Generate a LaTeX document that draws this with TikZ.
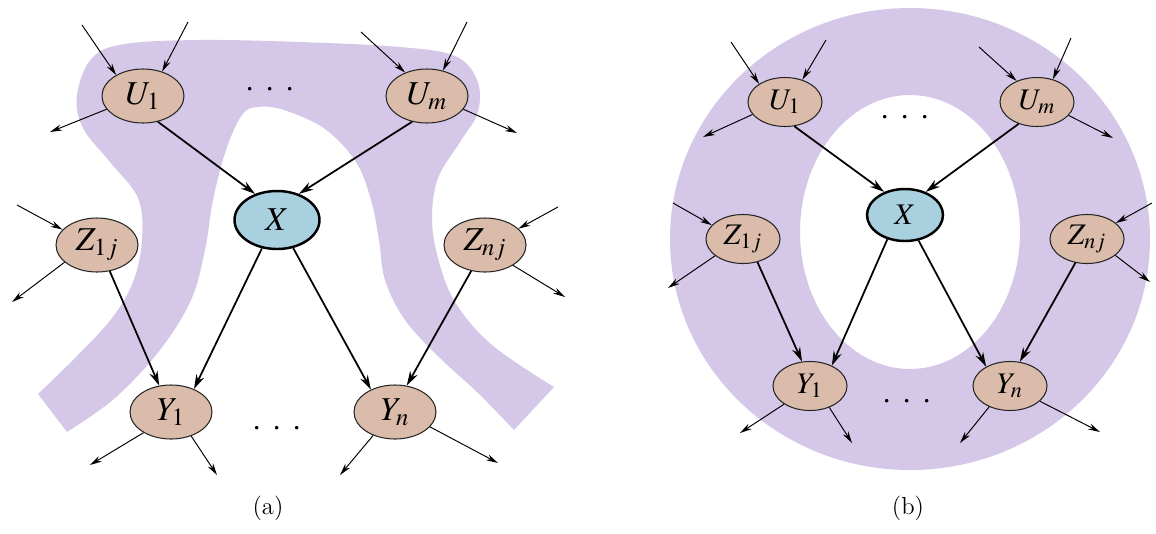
\documentclass[tikz,border=0pt]{standalone}
\usepackage{mathptmx}
\usetikzlibrary{shapes.geometric,arrows.meta}

\definecolor{halo}{RGB}{212,199,231}
\definecolor{nodetan}{RGB}{219,188,170}
\definecolor{nodeblue}{RGB}{168,208,222}

\tikzset{
  varnode/.style={ellipse, draw=black!85, line width=0.6pt, fill=nodetan, inner sep=0pt,
    minimum width=16.4mm, minimum height=10.8mm, font=\fontsize{19}{21}\selectfont},
  querynode/.style={varnode, fill=nodeblue, draw=black, line width=1.4pt,
    minimum width=17mm, minimum height=11.6mm},
  panelb/.style={minimum width=14.8mm, minimum height=9.8mm, font=\fontsize{17}{19}\selectfont},
  mainarrow/.style={-{Stealth[length=2.9mm,width=1.7mm]}, line width=1pt},
  stub/.style={-{Stealth[length=2.4mm,width=1.25mm]}, line width=0.55pt},
  dotrow/.style={inner sep=0pt, font=\fontsize{19}{21}\selectfont},
}
\newcommand{\tredots}{${\cdot}\hspace{2.1mm}{\cdot}\hspace{2.1mm}{\cdot}$}

\begin{document}
\begin{tikzpicture}[x=0.2mm, y=-0.2mm]
    \useasboundingbox (0,0) rectangle (1156,533);

    % Regione viola (a)
    \fill[halo] plot[smooth, tension=0.6] coordinates {(38,394) (78,355) (112,318) (133,282)
        (142,240) (138,198) (110,162) (83,128) (77,95) (92,58) (125,44) (200,40) (300,42)
        (400,47) (455,56) (477,80) (478,112) (460,142) (438,178) (432,218) (438,258)
        (455,302) (492,345) (554,387)}
      -- plot[smooth, tension=0.6] coordinates {(514,430) (478,393) (440,358) (405,320)
        (385,280) (379,240) (371,200) (356,162) (325,129) (284,110) (258,107) (242,115)
        (226,150) (213,200) (205,250) (191,300) (160,350) (115,398) (67,432)}
      -- cycle;

    % Anello (b)
    \fill[halo, even odd rule] (910,239) ellipse [x radius=240, y radius=231]
        (910,232) ellipse [x radius=110, y radius=137];

    % Nodi (a)
    \node[varnode] (U1) at (143,96) {$U_1$};
    \node[varnode] (Um) at (427,96) {$U_m$};
    \node[querynode] (X) at (277,220) {$X$};
    \node[varnode] (Z1) at (97,245) {$Z_{1j}$};
    \node[varnode] (Zn) at (485,245) {$Z_{nj}$};
    \node[varnode] (Y1) at (171,412) {$Y_1$};
    \node[varnode] (Yn) at (395,412) {$Y_n$};
    \node[dotrow] (dta) at (270,90) {\tredots};
    \node[dotrow] (dba) at (277,429) {\tredots};

    % Nodi (b)
    \node[varnode, panelb] (U1b) at (785,102) {$U_1$};
    \node[varnode, panelb] (Umb) at (1037,102) {$U_m$};
    \node[querynode, panelb, minimum width=15.2mm, minimum height=10.4mm] (Xb) at (905,215) {$X$};
    \node[varnode, panelb] (Z1b) at (743,239) {$Z_{1j}$};
    \node[varnode, panelb] (Znb) at (1087,239) {$Z_{nj}$};
    \node[varnode, panelb] (Y1b) at (810,386) {$Y_1$};
    \node[varnode, panelb] (Ynb) at (1010,386) {$Y_n$};
    \node[dotrow] (dtb) at (905,118) {\tredots};
    \node[dotrow] (dbb) at (907,402) {\tredots};

    % Didascalie
    \node[font=\fontsize{14}{16}\selectfont] (capa) at (268,508) {(a)};
    \node[font=\fontsize{14}{16}\selectfont] (capb) at (908,508) {(b)};

    % Archi principali (a)
    \draw[mainarrow] (U1.-60) -- (X.130);
    \draw[mainarrow] (Um.-120) -- (X.50);
    \draw[mainarrow] (X.-118) -- (Y1.45);
    \draw[mainarrow] (X.-60) -- (Yn.137);
    \draw[mainarrow] (Z1.-64) -- (Y1.114);
    \draw[mainarrow] (Zn.-118) -- (Yn.66);

    % Archi principali (b)
    \draw[mainarrow] (U1b.-69) -- (Xb.132);
    \draw[mainarrow] (Umb.-130) -- (Xb.48);
    \draw[mainarrow] (Xb.-126) -- (Y1b.43);
    \draw[mainarrow] (Xb.-62) -- (Ynb.141);
    \draw[mainarrow] (Z1b.-58) -- (Y1b.108);
    \draw[mainarrow] (Znb.-116) -- (Ynb.68);

    % Estremi liberi (a)
    \coordinate (u1i1) at (82,25);
    \coordinate (u1i2) at (188,22);
    \coordinate (u1o) at (50,132);
    \coordinate (umi1) at (361,32);
    \coordinate (umi2) at (467,22);
    \coordinate (umo) at (517,133);
    \coordinate (z1i) at (17,205);
    \coordinate (z1o) at (12,302);
    \coordinate (zni) at (558,207);
    \coordinate (zno) at (565,297);
    \coordinate (y1o1) at (90,465);
    \coordinate (y1o2) at (217,475);
    \coordinate (yno1) at (340,475);
    \coordinate (yno2) at (498,463);

    % Estremi liberi (b)
    \coordinate (u1i1b) at (731,42);
    \coordinate (u1i2b) at (826,40);
    \coordinate (u1ob) at (703,137);
    \coordinate (umi1b) at (979,47);
    \coordinate (umi2b) at (1071,38);
    \coordinate (umob) at (1113,138);
    \coordinate (z1ib) at (673,203);
    \coordinate (z1ob) at (668,288);
    \coordinate (znib) at (1152,203);
    \coordinate (znob) at (1150,282);
    \coordinate (y1o1b) at (740,433);
    \coordinate (y1o2b) at (852,443);
    \coordinate (yno1b) at (960,443);
    \coordinate (yno2b) at (1100,432);

    % Frecce corte (a)
    \draw[stub] (u1i1) -- (U1.142);
    \draw[stub] (u1i2) -- (U1.52);
    \draw[stub] (U1.-160) -- (u1o);
    \draw[stub] (umi1) -- (Um.133);
    \draw[stub] (umi2) -- (Um.58);
    \draw[stub] (Um.-20) -- (umo);
    \draw[stub] (z1i) -- (Z1.156);
    \draw[stub] (Z1.-152) -- (z1o);
    \draw[stub] (zni) -- (Zn.26);
    \draw[stub] (Zn.-36) -- (zno);
    \draw[stub] (Y1.-143) -- (y1o1);
    \draw[stub] (Y1.-50) -- (y1o2);
    \draw[stub] (Yn.-133) -- (yno1);
    \draw[stub] (Yn.-23) -- (yno2);

    % Frecce corte (b)
    \draw[stub] (u1i1b) -- (U1b.145);
    \draw[stub] (u1i2b) -- (U1b.52);
    \draw[stub] (U1b.-159) -- (u1ob);
    \draw[stub] (umi1b) -- (Umb.134);
    \draw[stub] (umi2b) -- (Umb.55);
    \draw[stub] (Umb.-23) -- (umob);
    \draw[stub] (z1ib) -- (Z1b.156);
    \draw[stub] (Z1b.-149) -- (z1ob);
    \draw[stub] (znib) -- (Znb.29);
    \draw[stub] (Znb.-30) -- (znob);
    \draw[stub] (Y1b.-145) -- (y1o1b);
    \draw[stub] (Y1b.-48) -- (y1o2b);
    \draw[stub] (Ynb.-135) -- (yno1b);
    \draw[stub] (Ynb.-27) -- (yno2b);

\end{tikzpicture}
\end{document}
